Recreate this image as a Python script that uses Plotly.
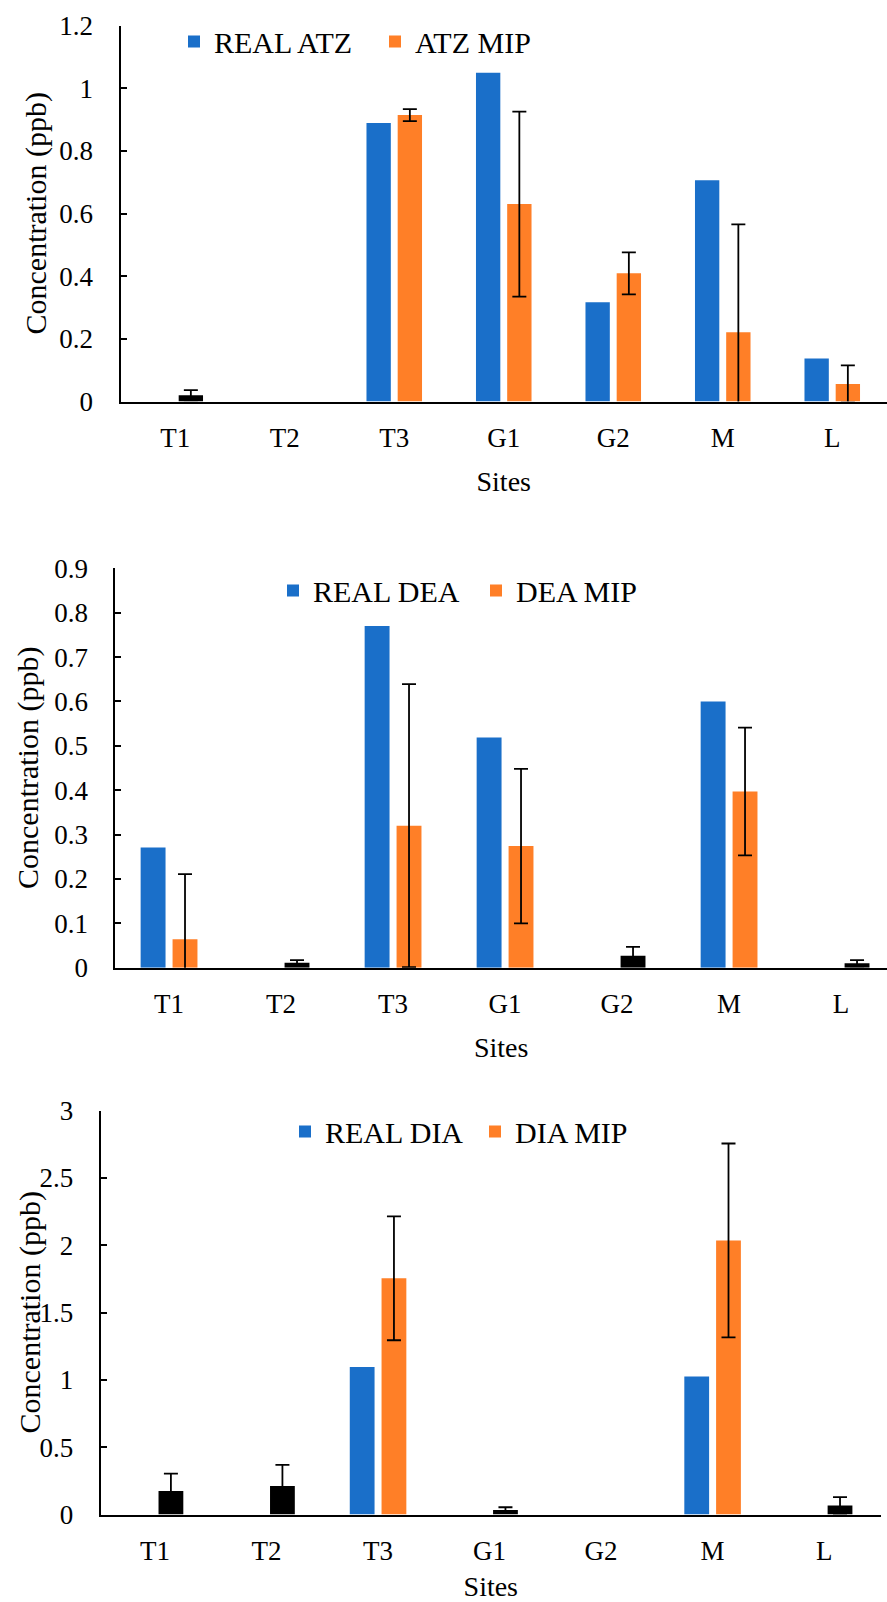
import plotly.graph_objects as go

sites = ["T1", "T2", "T3", "G1", "G2", "M", "L"]

atz_real = [0, 0, 0.889, 1.049, 0.317, 0.706, 0.137]
atz_mip = [0.020, None, 0.914, 0.630, 0.409, 0.221, 0.056]
atz_err = [0.016, 0, 0.019, 0.295, 0.067, 0.344, 0.059]

dea_real = [0.271, 0, 0.770, 0.519, 0, 0.600, 0]
dea_mip = [0.064, 0.011, 0.320, 0.274, 0.027, 0.397, 0.010]
dea_err = [0.147, 0.006, 0.319, 0.174, 0.020, 0.144, 0.007]

dia_real = [0, 0, 1.096, 0, 0, 1.024, 0]
dia_mip = [0.175, 0.212, 1.754, 0.034, None, 2.035, 0.067]
dia_err = [0.129, 0.157, 0.460, 0.020, 0, 0.720, 0.062]

BLUE = "#1A6FC9"
ORANGE = "#FF7F27"
BLACK = "#000000"

# MIP bars that render black in the original (tiny values)
atz_mip_colors = [BLACK, ORANGE, ORANGE, ORANGE, ORANGE, ORANGE, ORANGE]
dea_mip_colors = [ORANGE, BLACK, ORANGE, ORANGE, BLACK, ORANGE, BLACK]
dia_mip_colors = [BLACK, BLACK, ORANGE, BLACK, ORANGE, ORANGE, BLACK]

FONT = "Liberation Serif"
W, H = 887, 1602


def f(size):
    return dict(family=FONT, size=size, color="black")


panels = [
    dict(real=atz_real, mip=atz_mip, err=atz_err, mipc=atz_mip_colors,
         names=("REAL ATZ", "ATZ MIP"), yr=[0, 1.2], dt=0.2,
         ypx=(25.5, 401.5), xpx=(120.5, 887), xr=[-0.5, 6.5],
         leg=(196, 41.5), ytx=35, ew=156),
    dict(real=dea_real, mip=dea_mip, err=dea_err, mipc=dea_mip_colors,
         names=("REAL DEA", "DEA MIP"), yr=[0, 0.9], dt=0.1,
         ypx=(568.3, 967.7), xpx=(115.4, 887), xr=[-0.479, 6.41],
         leg=(295, 590.5), ytx=28, ew=158),
    dict(real=dia_real, mip=dia_mip, err=dia_err, mipc=dia_mip_colors,
         names=("REAL DIA", "DIA MIP"), yr=[0, 3], dt=0.5,
         ypx=(1110.5, 1514.5), xpx=(100.6, 881), xr=[-0.488, 6.51],
         leg=(307, 1131.5), ytx=29, ew=145),
]

fig = go.Figure()
layout = dict(
    width=W, height=H,
    margin=dict(l=0, r=0, t=0, b=0, autoexpand=False),
    paper_bgcolor="white", plot_bgcolor="white",
    barmode="group", bargap=0.43, bargroupgap=0.22,
    font=f(27),
    xaxis4=dict(visible=False, domain=[0, 0.01], anchor="y4"),
    yaxis4=dict(visible=False, domain=[0, 0.01], anchor="x4"),
)
annotations = []

for i, p in enumerate(panels):
    n = "" if i == 0 else str(i + 1)
    xa, ya = "x" + n, "y" + n
    legname = "legend" + n
    fig.add_trace(go.Bar(
        x=sites, y=p["real"], name=p["names"][0], xaxis=xa, yaxis=ya,
        marker=dict(color=BLUE, line=dict(width=0)), legend=legname,
    ))
    fig.add_trace(go.Bar(
        x=sites, y=p["mip"], name=p["names"][1], xaxis=xa, yaxis=ya,
        marker=dict(color=p["mipc"], line=dict(width=0)), legend=legname,
        showlegend=False,
        error_y=dict(type="data", array=p["err"], visible=True,
                     color="black", thickness=1.8, width=7),
    ))
    # legend entry for the MIP series (keeps the orange swatch)
    fig.add_trace(go.Bar(
        x=[None], y=[None], name=p["names"][1], xaxis="x4", yaxis="y4",
        marker=dict(color=ORANGE, line=dict(width=0)), legend=legname,
        hoverinfo="skip",
    ))
    y0 = (H - p["ypx"][1]) / H
    y1 = (H - p["ypx"][0]) / H
    layout["xaxis" + n] = dict(
        domain=[p["xpx"][0] / W, p["xpx"][1] / W], range=p["xr"],
        anchor=ya, showline=True, linecolor="black", linewidth=2,
        ticks="", showgrid=False, zeroline=False,
        ticklabelstandoff=11,
        title=dict(text="Sites", font=f(28), standoff=19),
        tickfont=f(27),
    )
    layout["yaxis" + n] = dict(
        domain=[y0, y1], range=p["yr"], anchor=xa,
        showline=True, linecolor="black", linewidth=2,
        ticks="inside", ticklen=6, tickwidth=2, tickcolor="black",
        dtick=p["dt"], tick0=0, showgrid=False, zeroline=False,
        ticklabelstandoff=20,
        tickfont=f(27),
    )
    annotations.append(dict(
        text="Concentration (ppb)", textangle=-90, showarrow=False,
        xref="paper", yref="paper", x=p["ytx"] / W,
        y=(y0 + y1) / 2, xanchor="center", yanchor="middle",
        font=f(30),
    ))
    layout[legname] = dict(
        orientation="h", x=(p["leg"][0] - 22) / W, xanchor="left",
        y=(H - p["leg"][1]) / H, yanchor="middle",
        font=f(30), bgcolor="rgba(0,0,0,0)",
        entrywidth=p["ew"], traceorder="normal",
    )

layout["annotations"] = annotations
fig.update_layout(**layout)
fig.write_html("out.html")
